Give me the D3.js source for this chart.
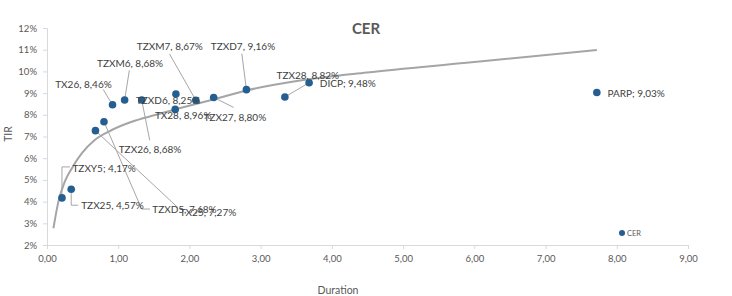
<!DOCTYPE html>
<html><head><meta charset="utf-8">
<script src="https://cdn.jsdelivr.net/npm/d3@7/dist/d3.min.js"></script>
<style>
html,body{margin:0;padding:0;background:#fff;}
svg text{font-family:Lato,"Open Sans",sans-serif;}
</style></head>
<body><div id="chart"></div>
<script>
// ---- data ----
const bondNames = ["TZXY5","TZX25","TX25","TZXD5","TX26","TZXM6","TZX26","TZXD6","TX28","TZXM7","TZX27","TZXD7","TZX28","DICP","PARP"];
const durations = [0.21,0.34,0.68,0.80,0.92,1.09,1.33,1.80,1.81,2.09,2.34,2.80,3.34,3.68,7.72];
const tirValues = [4.17,4.57,7.27,7.68,8.46,8.68,8.68,8.25,8.96,8.67,8.80,9.16,8.82,9.48,9.03];
const labelTexts = ["TZXY5; 4,17%","TZX25, 4,57%","TX25, 7,27%","TZXD5, 7,68%","TX26, 8,46%","TZXM6, 8,68%","TZX26, 8,68%","TZXD6, 8,25%","TX28, 8,96%","TZXM7, 8,67%","TZX27, 8,80%","TZXD7, 9,16%","TZX28, 8,82%","DICP; 9,48%","PARP; 9,03%"];
// trendline
const trendX = [0.09,0.16,0.25,0.35,0.49,0.67,0.91,1.19,1.52,1.94,2.31,2.80,3.60,4.49,5.89,7.72];
const trendY = [2.77,4.00,4.92,5.54,6.23,6.84,7.30,7.68,7.99,8.37,8.68,9.12,9.60,9.95,10.40,10.99];
const xTicks = [0,1,2,3,4,5,6,7,8,9];
const yTicks = [2,3,4,5,6,7,8,9,10,11,12];
const chartTitle = "CER";
const xTitle = "Duration";
const yTitle = "TIR";
const legendLabel = "CER";

// ---- layout (label placement relative to each point, px) ----
const labelLayout = [
  {dx:10.5, dy:-29.5, lead:[[0,-3],[0,-31],[8,-31]]},
  {dx:10, dy:16, lead:[[0,4],[0,16],[7,16]]},
  {dx:84.3, dy:81.7, lead:[[0,0],[82.5,77]]},
  {dx:48.3, dy:87.3, lead:[[0,0],[37.7,87.3],[46,87.3]]},
  {dx:-57.3, dy:-20, lead:[[0,0],[-9.3,-15.3]]},
  {dx:-27.6, dy:-36.4, lead:[[0,0],[4.7,-29.7]]},
  {dx:-23, dy:49.3, lead:[[0,0],[8,40.3]]},
  {dx:-39.3, dy:-9.3, lead:null},
  {dx:-21, dy:21.3, lead:null},
  {dx:-59, dy:-54, lead:[[0,0],[-26.4,-46.4]]},
  {dx:-10, dy:20, lead:[[0,0],[20,10]]},
  {dx:-35.6, dy:-43.3, lead:[[0,0],[-4.6,-36]]},
  {dx:-8.3, dy:-22, lead:[[0,0],[22,-13]]},
  {dx:10.7, dy:0.6, lead:null},
  {dx:10.6, dy:1, lead:null}
];

const W = 732, H = 296;
const svg = d3.select("#chart").append("svg").attr("width", W).attr("height", H);
const x = d3.scaleLinear().domain([0,9]).range([47,688]);
const y = d3.scaleLinear().domain([2,12]).range([245,28]);
const axisColor = "#d9d9d9", textColor = "#595959";

// axes
const fmtX = d => d3.format(".2f")(d).replace(".", ",");
const gx = svg.append("g").attr("transform", `translate(0,${y(2)})`)
  .call(d3.axisBottom(x).tickValues(xTicks).tickFormat(fmtX).tickSize(4).tickPadding(6));
const gy = svg.append("g").attr("transform", `translate(${x(0)},0)`)
  .call(d3.axisLeft(y).tickValues(yTicks).tickFormat(d => d + "%").tickSize(4).tickPadding(6));
[gx, gy].forEach(g => {
  g.select(".domain").attr("stroke", axisColor).attr("stroke-width", 1);
  g.selectAll(".tick line").attr("stroke", axisColor);
  g.selectAll(".tick text").attr("fill", textColor).style("font-size", "9.5px").style("font-family", "Lato, sans-serif");
});

// titles
svg.append("text").attr("x", 366).attr("y", 34).attr("text-anchor", "middle")
  .attr("fill", textColor).style("font-size", "15px").style("font-weight", "bold").text(chartTitle);
svg.append("text").attr("x", 338).attr("y", 294).attr("text-anchor", "middle")
  .attr("fill", textColor).style("font-size", "10.5px").text(xTitle);
svg.append("text").attr("transform", "translate(12,134) rotate(-90)").attr("text-anchor", "middle")
  .attr("fill", textColor).style("font-size", "10.5px").text(yTitle);

// trendline
const trendPts = trendX.map((d, i) => [d, trendY[i]]);
svg.append("path").datum(trendPts)
  .attr("d", d3.line().x(d => x(d[0])).y(d => y(d[1])).curve(d3.curveMonotoneX))
  .attr("fill", "none").attr("stroke", "#a5a5a5").attr("stroke-width", 2);

const pts = bondNames.map((n, i) => ({name:n, x:x(durations[i]), y:y(tirValues[i]), label:labelTexts[i], lay:labelLayout[i]}));

// leader lines
svg.append("g").selectAll("path").data(pts.filter(p => p.lay.lead)).join("path")
  .attr("d", p => d3.line()(p.lay.lead.map(q => [p.x + q[0], p.y + q[1]])))
  .attr("fill", "none").attr("stroke", "#a6a6a6").attr("stroke-width", 1);

// points
const markColor = "#255e91";
svg.append("g").selectAll("circle").data(pts).join("circle")
  .attr("cx", p => p.x).attr("cy", p => p.y).attr("r", 3.8).attr("fill", markColor);

// labels
svg.append("g").selectAll("text").data(pts).join("text")
  .attr("x", p => p.x + p.lay.dx).attr("y", p => p.y + p.lay.dy).attr("dy", "0.35em")
  .attr("fill", "#404040").style("font-size", "10px").text(p => p.label);

// legend
svg.append("circle").attr("cx", 622).attr("cy", 233).attr("r", 3).attr("fill", markColor);
svg.append("text").attr("x", 627).attr("y", 233).attr("dy", "0.35em").attr("fill", textColor)
  .style("font-size", "7.5px").text(legendLabel);
</script></body></html>
